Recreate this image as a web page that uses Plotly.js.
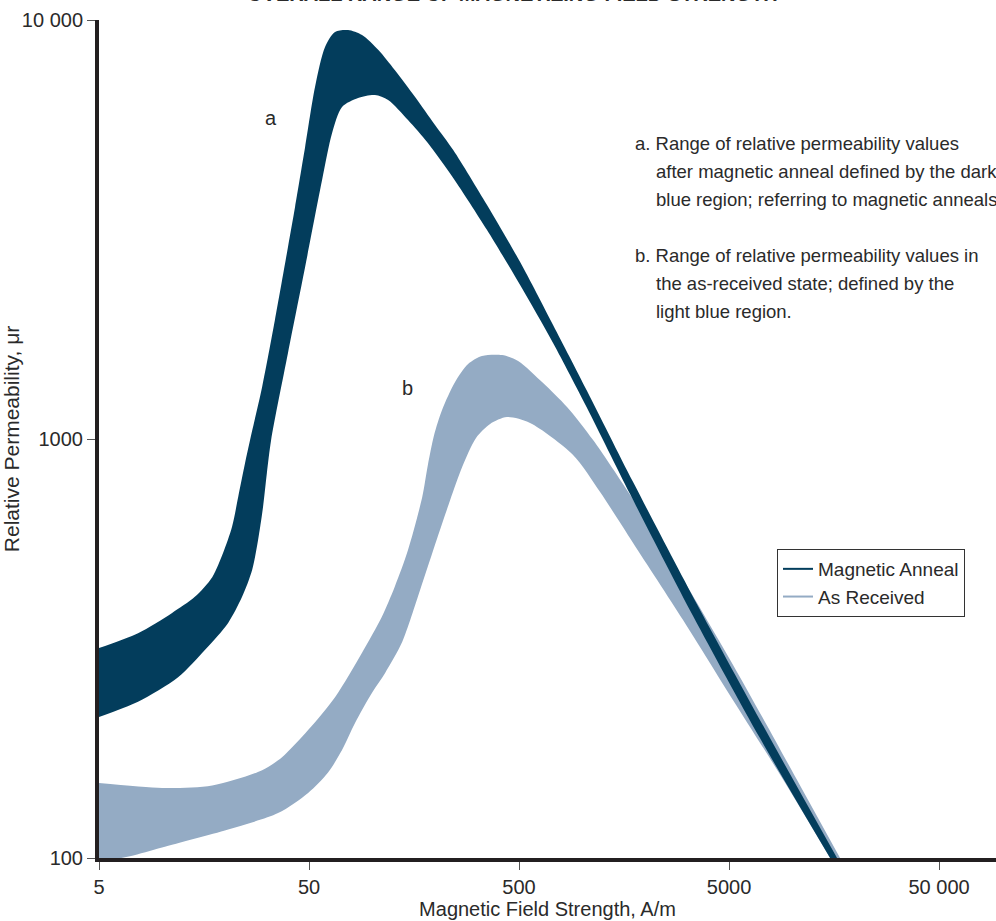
<!DOCTYPE html>
<html>
<head>
<meta charset="utf-8">
<script src="https://cdn.plot.ly/plotly-3.0.1.min.js"></script>
<style>
html,body{margin:0;padding:0;overflow:hidden;background:#fff;}
#chart{width:1100px;height:921px;}
</style>
</head>
<body>
<div id="chart"></div>
<script>
// Magnetic Anneal band (dark)
const annealUpperX = [5.0, 7.67, 11.1, 14.3, 17.3, 19.5, 21.5, 23.0, 24.8, 26.2, 29.9, 34.4, 39.7, 42.9, 47.9, 53.4, 59.6, 66.5, 76.7, 89.4, 107, 128, 160, 199, 243, 352, 506, 726, 1054, 1746, 3638, 7586, 16340];
const annealUpperY = [317, 344, 384, 420, 468, 535, 617, 727, 876, 994, 1331, 1923, 2872, 3579, 4976, 6921, 8622, 9363, 9465, 9210, 8480, 7598, 6550, 5616, 4894, 3618, 2644, 1871, 1302, 789, 391, 199, 100];
const annealLowerX = [5.0, 7.67, 11.9, 16.0, 20.6, 24.0, 26.8, 28.6, 30.2, 31.5, 33.0, 39.7, 47.9, 57.7, 64.4, 71.8, 85.6, 103, 119, 148, 184, 243, 352, 506, 726, 1054, 1689, 3370, 7025, 15140];
const annealLowerY = [217, 236, 270, 314, 364, 420, 487, 574, 688, 830, 994, 1604, 2573, 4151, 5374, 6200, 6514, 6622, 6443, 5772, 5087, 4197, 3154, 2331, 1695, 1186, 739, 378, 193, 100];

// As Received band (light)
const receivedUpperX = [5.0, 9.98, 17.3, 29.9, 37.2, 49.5, 66.5, 89.4, 111, 128, 148, 173, 184, 197, 215, 248, 286, 333, 415, 495, 651, 846, 1126, 1634, 2534, 5225, 10890, 16890];
const receivedUpperY = [151, 147, 149, 162, 174, 202, 242, 309, 376, 444, 543, 727, 867, 1022, 1173, 1368, 1510, 1578, 1586, 1536, 1360, 1192, 994, 755, 535, 289, 149, 100];
const receivedLowerX = [5.0, 7.02, 9.98, 20.6, 35.6, 49.5, 61.6, 71.8, 82.8, 99.8, 115, 139, 169, 204, 235, 268, 312, 364, 438, 564, 904, 1216, 1746, 3020, 5225, 9040, 15140];
const receivedLowerY = [97.8, 101, 106, 117, 128, 143, 160, 181, 210, 248, 276, 328, 436, 580, 715, 857, 1006, 1086, 1128, 1092, 916, 747, 565, 370, 238, 154, 100];

const xTickVals = [5, 50, 500, 5000, 50000];
const xTickText = ['5', '50', '500', '5000', '50 000'];
const yTickVals = [100, 1000, 10000];
const yTickText = ['100', '1000', '10 000'];

const seriesNames = ['Magnetic Anneal', 'As Received'];

const DARK = '#033d5c';
const LIGHT = '#94abc4';
const TXT = '#2a2a2a';
const FONT = '"Liberation Sans", Arial, sans-serif';

const band = (x, y, color, fill) => ({
  x: x, y: y, type: 'scatter', mode: 'lines',
  line: {width: 0, shape: 'spline', smoothing: 0.8, color: color},
  fill: fill, fillcolor: color, showlegend: false, hoverinfo: 'skip'
});

const data = [
  band(receivedLowerX, receivedLowerY, LIGHT, 'none'),
  band(receivedUpperX, receivedUpperY, LIGHT, 'tonexty'),
  band(annealLowerX, annealLowerY, DARK, 'none'),
  band(annealUpperX, annealUpperY, DARK, 'tonexty'),
  {x: [null], y: [null], type: 'scatter', mode: 'lines', name: seriesNames[0], line: {color: DARK, width: 2}},
  {x: [null], y: [null], type: 'scatter', mode: 'lines', name: seriesNames[1], line: {color: LIGHT, width: 2}}
];

const ann = (text, x, y, opts) => Object.assign({
  text: text, xref: 'paper', yref: 'paper', x: x, y: y,
  xanchor: 'left', yanchor: 'middle', showarrow: false,
  font: {family: FONT, size: 18.5, color: TXT}
}, opts || {});

// paper coords: x = (px-99)/897, y = (858-py)/838
const px = p => (p - 99) / 897;
const py = p => (858 - p) / 838;

const annotations = [
  ann('OVERALL RANGE OF MAGNETIZING FIELD STRENGTH', px(512), py(7), {xanchor: 'center', yanchor: 'bottom', font: {family: FONT, size: 20, color: TXT, weight: 'bold'}}),
  ann('a', px(271), py(118), {xanchor: 'center', font: {family: FONT, size: 20, color: TXT}}),
  ann('b', px(407), py(388), {xanchor: 'center', font: {family: FONT, size: 20, color: TXT}}),
  ann('a. Range of relative permeability values', px(633), py(143)),
  ann('after magnetic anneal defined by the dark', px(654), py(171)),
  ann('blue region; referring to magnetic anneals', px(654), py(199)),
  ann('b. Range of relative permeability values in', px(633), py(255)),
  ann('the as-received state; defined by the', px(654), py(283)),
  ann('light blue region.', px(654), py(311))
];

const axisCommon = {
  type: 'log', showgrid: false, zeroline: false,
  showline: true, linewidth: 4, linecolor: '#231f20',
  ticks: 'outside', ticklen: 8, tickwidth: 1, tickcolor: '#555',
  tickfont: {family: FONT, size: 20, color: TXT}
};

const layout = {
  width: 1100, height: 921,
  margin: {l: 99, r: 104, t: 20, b: 63, autoexpand: false},
  paper_bgcolor: '#fff', plot_bgcolor: '#fff',
  font: {family: FONT, color: TXT},
  xaxis: Object.assign({}, axisCommon, {
    range: [Math.log10(5), 4.97],
    tickmode: 'array', tickvals: xTickVals, ticktext: xTickText,
    title: {text: 'Magnetic Field Strength, A/m', font: {family: FONT, size: 20, color: TXT}, standoff: 6}
  }),
  yaxis: Object.assign({}, axisCommon, {
    range: [2, 4],
    tickmode: 'array', tickvals: yTickVals, ticktext: yTickText,
    title: {text: 'Relative Permeability, μr', font: {family: FONT, size: 21, color: TXT}, standoff: 12}
  }),
  legend: {
    x: px(777), y: py(549), xanchor: 'left', yanchor: 'top',
    traceorder: 'normal',
    bordercolor: '#333', borderwidth: 1, bgcolor: '#fff',
    font: {family: FONT, size: 19, color: TXT},
    itemwidth: 30
  },
  annotations: annotations,
  showlegend: true
};

Plotly.newPlot('chart', data, layout, {staticPlot: true, displayModeBar: false});
</script>
</body>
</html>
